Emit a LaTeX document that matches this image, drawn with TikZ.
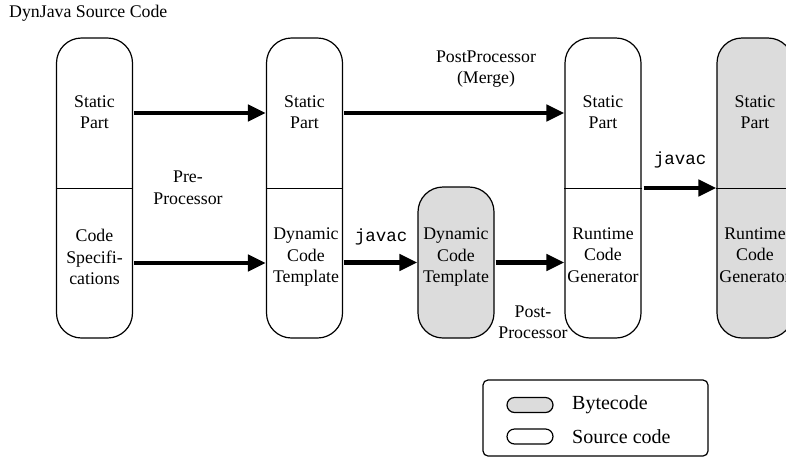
\documentclass[tikz,border=0pt]{standalone}
\usepackage{fontspec}
\setmainfont{Liberation Serif}
\setmonofont{Liberation Mono}
\usetikzlibrary{arrows.meta}
\definecolor{bytefill}{HTML}{DCDCDC}
\begin{document}
\begin{tikzpicture}[x=1pt,y=-1pt,
  every node/.style={font=\fontsize{17.8}{21.5}\selectfont, align=center, inner sep=0pt},
  column/.style={draw, line width=1.2pt, rounded corners=25pt, minimum width=76pt, minimum height=300pt},
  bytecol/.style={column, fill=bytefill},
  divider/.style={line width=1pt},
  flow/.style={line width=4.5pt, -{Triangle[length=18pt,width=16pt]}, shorten <=1pt},
  code/.style={font=\fontsize{17.5}{21}\ttfamily},
  legendtext/.style={font=\fontsize{20}{24}\selectfont, anchor=west},
  swatch/.style={draw, line width=1.2pt, rounded corners=7.5pt, minimum width=46pt, minimum height=15pt}
]
\clip (0,0) rectangle (786,459);
\fill[white] (0,0) rectangle (786,459);

% title
\node[anchor=west] (title) at (9,13) {DynJava Source Code};

% the four tall columns
\node[column] (c1) at (94.5,188) {};
\node[column] (c2) at (304.5,188) {};
\node[column] (c4) at (603,188) {};
\node[bytecol] (c5) at (755,188) {};
% compiled template
\node[bytecol, minimum height=151pt] (c3) at (456,262.5) {};

% dividers between static and dynamic halves
\draw[divider] (c1.west) -- (c1.east);
\draw[divider] (c2.west) -- (c2.east);
\draw[divider] (c4.west) -- (c4.east);
\draw[divider] (c5.west) -- (c5.east);

% column contents
\node (s1) at (94.5,112) {Static\\Part};
\node (d1) at (94.5,257) {Code\\Specifi-\\cations};
\node (s2) at (304.5,112) {Static\\Part};
\node (d2) at (306,257) {Dynamic\\Code\\Template};
\node (d3) at (456,257) {Dynamic\\Code\\Template};
\node (s4) at (603,112) {Static\\Part};
\node (d4) at (603,255) {Runtime\\Code\\Generator};
\node (s5) at (755,112) {Static\\Part};
\node (d5) at (755,255) {Runtime\\Code\\Generator};

% flows
\draw[flow] ([yshift=75pt]c1.east) -- ([yshift=75pt]c2.west);
\draw[flow] ([yshift=-75pt]c1.east) -- ([yshift=-75pt]c2.west);
\draw[flow] ([yshift=75pt]c2.east) -- ([yshift=75pt]c4.west);
\draw[flow] (c2.east |- c3.west) -- (c3.west);
\draw[flow] (c3.east) -- (c4.west |- c3.east);
\draw[flow] ([xshift=1pt]c4.east) -- (c5.west);

% flow labels
\node (pre) at (188,188) {Pre-\\Processor};
\node (merge) at (486,69) {PostProcessor\\(Merge)};
\node[code] (javac1) at (381,237) {javac};
\node (post) at (533,322) {Post-\\Processor};
\node[code] (javac2) at (680,160) {javac};

% legend
\node[draw, line width=1.2pt, rounded corners=5pt, minimum width=225pt, minimum height=76pt] (legend) at (595.5,418) {};
\node[swatch, fill=bytefill] (kb) at (530,405) {};
\node[swatch] (ks) at (530,436.5) {};
\node[legendtext] (lb) at (572,405) {Bytecode};
\node[legendtext] (ls) at (572,437) {Source code};
\end{tikzpicture}
\end{document}
